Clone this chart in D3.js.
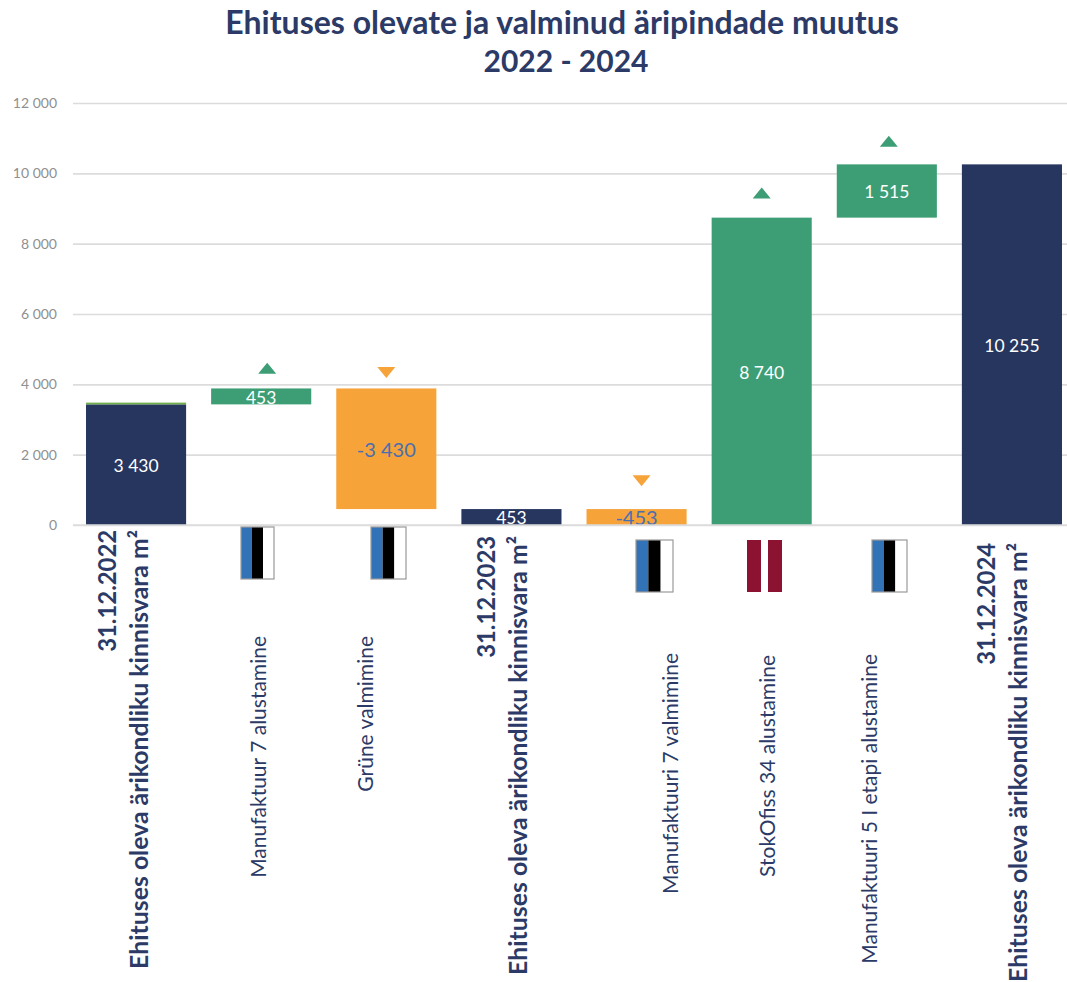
<!DOCTYPE html>
<html>
<head>
<meta charset="utf-8">
<script src="https://cdn.jsdelivr.net/npm/d3@7/dist/d3.min.js"></script>
<style>
  html, body { margin: 0; padding: 0; background: #fff; }
  svg { display: block; }
  text { font-family: Lato, "Open Sans", sans-serif; }
</style>
</head>
<body>
<div id="chart"></div>
<script>
// Waterfall of commercial floor area under construction, 2022-2024
const titleLines = ["Ehituses olevate ja valminud äripindade muutus", "2022 - 2024"];
const categories = ["c2022", "m7start", "gruneDone", "c2023", "m7done", "stok34", "m5start", "c2024"];
const dateLabels = ["31.12.2022", null, null, "31.12.2023", null, null, null, "31.12.2024"];
const categoryLabels = [
  "Ehituses oleva ärikondliku kinnisvara m²",
  "Manufaktuur 7 alustamine",
  "Grüne valmimine",
  "Ehituses oleva ärikondliku kinnisvara m²",
  "Manufaktuuri 7 valmimine",
  "StokOfiss 34 alustamine",
  "Manufaktuuri 5 I etapi alustamine",
  "Ehituses oleva ärikondliku kinnisvara m²"
];
const values = [3430, 453, -3430, 453, -453, 8740, 1515, 10255];
const kinds = ["total", "delta", "delta", "total", "delta", "delta", "delta", "total"];
const arrowLevels = [null, 4440, 4350, null, 1270, 9430, 10900, null];
const flags = [null, "ee", "ee", null, "ee", "lv", "ee", null];
const yTicks = [0, 2000, 4000, 6000, 8000, 10000, 12000];
const openingCap = 50;

const colors = { total: "#26365f", up: "#3d9e75", down: "#f6a43a", cap: "#6fae4a",
                 grid: "#dcdcdc", tick: "#8f8f8f", ink: "#2b3a66", downText: "#4a6fae" };

const width = 1067, height = 982;
const svg = d3.select("#chart").append("svg").attr("width", width).attr("height", height);

const x = d3.scaleBand().domain(categories).range([73.5, 1074.5]).paddingInner(0.2).paddingOuter(0.1);
const y = d3.scaleLinear().domain([0, 12000]).range([525, 103]);
const fmt = v => d3.format(",")(v).replace(/,/g, " ").replace("\u2212", "-");

// Running totals turn each value into a floating [low, high] segment
let running = 0;
const segments = values.map((v, i) => {
  const start = kinds[i] === "total" ? 0 : running;
  const end = kinds[i] === "total" ? v : running + v;
  running = end;
  return { key: categories[i], value: v, kind: kinds[i], low: Math.min(start, end), high: Math.max(start, end) };
});

// Title
svg.append("g").selectAll("text").data(titleLines).join("text")
  .attr("x", (d, i) => i ? 566 : 562).attr("y", (d, i) => 34 + i * 38)
  .attr("text-anchor", "middle").attr("font-size", (d, i) => i ? 30 : 32).attr("font-weight", 700)
  .attr("fill", colors.ink).text(d => d);

// Value axis with gridlines
const yAxis = svg.append("g").attr("transform", "translate(73,0)")
  .call(d3.axisLeft(y).tickValues(yTicks).tickSize(-1001).tickPadding(16).tickFormat(fmt));
yAxis.select(".domain").remove();
yAxis.selectAll(".tick line").attr("stroke", colors.grid).attr("stroke-width", 1.6);
yAxis.selectAll(".tick text").attr("fill", colors.tick).attr("font-size", 14)
  .style("font-family", "Lato, sans-serif");

// Bars
const fillOf = d => d.kind === "total" ? colors.total : d.value > 0 ? colors.up : colors.down;
svg.append("g").selectAll("rect").data(segments).join("rect")
  .attr("x", d => x(d.key)).attr("width", x.bandwidth())
  .attr("y", d => y(d.high)).attr("height", d => y(d.low) - y(d.high))
  .attr("fill", fillOf);

// Thin accent on the opening total
svg.append("rect").attr("x", x(categories[0])).attr("width", x.bandwidth())
  .attr("y", y(values[0] + openingCap)).attr("height", y(values[0]) - y(values[0] + openingCap))
  .attr("fill", colors.cap);

// Bar value labels
svg.append("g").selectAll("text").data(segments).join("text")
  .attr("x", d => x(d.key) + x.bandwidth() / 2)
  .attr("y", d => (y(d.low) + y(d.high)) / 2)
  .attr("dy", "0.42em").attr("text-anchor", "middle")
  .attr("font-size", d => d.value < 0 ? 20 : 17.5)
  .attr("fill", d => d.value < 0 ? colors.downText : "#fff")
  .text(d => fmt(d.value));

// Direction markers above the moving bars
const arrowNudge = [0, 6, 0, 0, 5, 0, 2, 0];
svg.append("g").selectAll("path")
  .data(segments.map((d, i) => ({ ...d, level: arrowLevels[i], nudge: arrowNudge[i] })).filter(d => d.level !== null))
  .join("path")
  .attr("d", d => d.value > 0 ? "M0,-6 L9,5 L-9,5 Z" : "M0,6 L9,-5 L-9,-5 Z")
  .attr("transform", d => `translate(${x(d.key) + x.bandwidth() / 2 + d.nudge},${y(d.level)})`)
  .attr("fill", d => d.value > 0 ? colors.up : colors.down);

// Category axis: hairline only, the labels and flags hang below it
const xAxis = svg.append("g").attr("transform", "translate(0,525)")
  .call(d3.axisBottom(x).tickSize(0).tickFormat(""));
xAxis.select(".domain").attr("stroke", colors.grid).attr("stroke-width", 1.6)
  .attr("d", "M73,0H1074");

// Flags, drawn as stripes: left edge, top and width per category
const flagBoxes = { 1: [241, 527, 33], 2: [371, 527, 35], 4: [636, 540, 37], 5: [747, 540, 35], 6: [872, 540, 35] };
const flagH = 52;
const stripes = { ee: ["#3273b8", "#000000", "#ffffff"] };
flags.forEach((f, i) => {
  if (!f) return;
  const [left, top, w] = flagBoxes[i];
  const g = svg.append("g").attr("transform", `translate(${left},${top})`);
  if (f === "ee") {
    g.selectAll("rect").data(stripes.ee).join("rect")
      .attr("x", (d, k) => k * w / 3).attr("width", w / 3).attr("height", flagH).attr("fill", d => d);
    g.append("rect").attr("width", w).attr("height", flagH)
      .attr("fill", "none").attr("stroke", "#9a9a9a").attr("stroke-width", 1.2);
  } else {
    g.selectAll("rect").data([0, 1]).join("rect")
      .attr("x", d => d ? 21 : 0).attr("width", 14).attr("height", flagH).attr("fill", "#8c1231");
  }
});

// Rotated category labels
const boldPlaces = { 0: [107, 139, 530], 3: [486, 518, 536], 7: [986, 1018, 543] };
const plainPlaces = { 1: [258, 636], 2: [365, 636], 4: [670, 653], 5: [767, 655], 6: [869, 654] };
const rotated = (px, py, str, size, weight) => svg.append("text")
  .attr("transform", `translate(${px},${py}) rotate(-90)`)
  .attr("text-anchor", "end").attr("dy", "0.36em")
  .attr("font-size", size).attr("font-weight", weight).attr("fill", colors.ink).text(str);
categoryLabels.forEach((label, i) => {
  if (dateLabels[i]) {
    const [a, b, top] = boldPlaces[i];
    rotated(a, top, dateLabels[i], 23.8, 700);
    rotated(b, top, label, 24.8, 700);
  } else {
    const [a, top] = plainPlaces[i];
    rotated(a, top, label, 21, 400);
  }
});
</script>
</body>
</html>
